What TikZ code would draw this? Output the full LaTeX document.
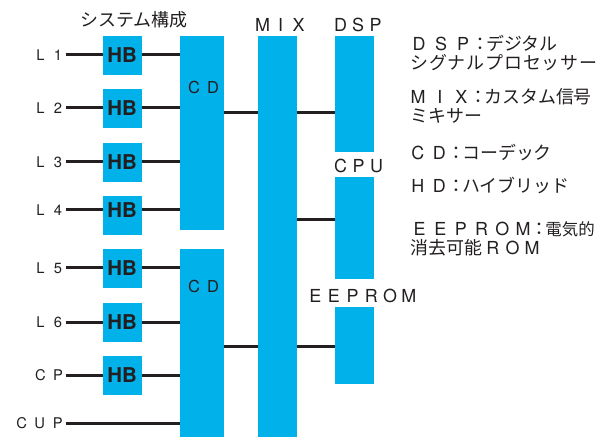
\documentclass[tikz,border=0pt]{standalone}
\usepackage{fontspec}
\setmainfont{Noto Sans CJK JP}
\newfontfamily\lat{TeX Gyre Heros}
\definecolor{blk}{HTML}{231F20}
\definecolor{cy}{HTML}{00B1EA}
\newlength\fwd
\newcommand\fwc[1]{\makebox[\fwd][c]{\lat #1}}
\def\fwloop#1{\ifx#1\relax\else\fwc{#1}\expandafter\fwloop\fi}
\newcommand\fws[2]{\setlength\fwd{#1}\fwloop#2\relax}
\newcommand\fwsx[2]{\setlength\fwd{#1}\expandafter\fwloop#2\relax}
\newcommand\colonbox[1]{\makebox[#1][c]{：}}
\begin{document}
\begin{tikzpicture}[x=1bp,y=-1bp,
  blk/.style={fill=cy,draw=none,inner sep=0pt,outer sep=0pt},
  wire/.style={draw=blk,line width=3bp},
  lab/.style={inner sep=0pt,text=blk,font=\fontsize{14.8}{14.8}\selectfont},
  big/.style={inner sep=0pt,text=blk,font=\fontsize{18}{18}\selectfont},
  leg/.style={big,anchor=base west,text height=13.5bp,text depth=1.5bp},
  hbt/.style={inner sep=0pt,text=blk,font=\fontsize{20.5}{20.5}\selectfont\lat\bfseries}]
\useasboundingbox (0,0) rectangle (608,437);
% title
\node[leg] (title) at (80,26.5) {システム構成};
% HB boxes
\foreach \n/\t/\b in {1/36/75,2/89/128,3/143/182,4/196/235,5/249/288,6/303/342,7/356/395}{
  \node[blk,minimum width=39bp,minimum height={(\b-\t)*1bp}] (hb\n) at (122.5,{(\t+\b)/2}) {};
}
% CD, MIX, DSP, CPU, EEPROM blocks
\node[blk,minimum width=44bp,minimum height=194bp] (cd1) at (202,133) {};
\node[blk,minimum width=44bp,minimum height=188bp] (cd2) at (202,343) {};
\node[blk,minimum width=39bp,minimum height=401bp] (mix) at (277.5,236.5) {};
\node[blk,minimum width=39bp,minimum height=116bp] (dsp) at (354.5,94) {};
\node[blk,minimum width=39bp,minimum height=102bp] (cpu) at (354.5,228) {};
\node[blk,minimum width=39bp,minimum height=77bp] (eep) at (354.5,345.5) {};
% block labels
\node[lab,font=\fontsize{16.5}{16.5}\selectfont] (cd1t) at (203.5,87.5) {\fws{19bp}{CD}};
\node[lab,font=\fontsize{16.5}{16.5}\selectfont] (cd2t) at (203.5,286.5) {\fws{19bp}{CD}};
\node[big] (mixt) at (280.5,25) {\fws{18bp}{MIX}};
\node[big] (dspt) at (358,25) {\fws{17.5bp}{DSP}};
\node[big] (cput) at (358.5,166) {\fws{18bp}{CPU}};
\node[big] (eept) at (362,296) {\fws{18.7bp}{EEPROM}};
% input labels
\foreach \n/\y/\s in {1/55/L1,2/108/L2,3/162/L3,4/210/L4,5/268/L5,6/322/L6,7/375/CP}{
  \node[lab,anchor=east] (in\n) at (67,\y) {\fwsx{17.5bp}{\s}};
  \node[hbt] (hbt\n) at (122,\y) {HB};
  \draw[wire] ([xshift=-1.5bp]in\n.east) -- (in\n.east -| hb\n.west);
  \draw[wire] (in\n.east -| hb\n.east) -- (in\n.east -| cd1.west);
}
\node[lab,anchor=east] (cup) at (67,423) {\fws{18bp}{CUP}};
\draw[wire] ([xshift=-1.5bp]cup.east) -- (cup.east -| cd2.west);
% outputs
\coordinate (o1) at (224,113);
\coordinate (o2) at (224,346);
\draw[wire] (o1 -| cd1.east) -- (o1 -| mix.west);
\draw[wire] (o1 -| mix.east) -- (o1 -| dsp.west);
\draw[wire] (o2 -| cd2.east) -- (o2 -| mix.west);
\draw[wire] (o2 -| mix.east) -- (o2 -| eep.west);
\coordinate (o3) at (300,220);
\draw[wire] (o3 -| mix.east) -- (o3 -| cpu.west);
% legend
\node[leg] (g1) at (408,51) {\fws{22bp}{DSP}\colonbox{12bp}デジタル};
\node[leg] (g2) at (410,70) {\addfontfeature{LetterSpace=5}シグナルプロセッサー};
\node[leg] (g3) at (407,104) {\fws{21.7bp}{MIX}\colonbox{12bp}カスタム信号};
\node[leg] (g4) at (410,123) {ミキサー};
\node[leg] (g5) at (407,160) {\fws{21.5bp}{CD}\colonbox{12bp}コーデック};
\node[leg] (g6) at (407,193) {\fws{21.5bp}{HD}\colonbox{12bp}ハイブリッド};
\node[leg] (g7) at (409,236) {\fws{20.7bp}{EEPROM}\colonbox{12bp}{\fontsize{16.5}{16.5}\selectfont 電気的}};
\node[leg] (g8) at (410,255) {消去可能\hspace{1bp}\fws{19.7bp}{ROM}};
\end{tikzpicture}
\end{document}
